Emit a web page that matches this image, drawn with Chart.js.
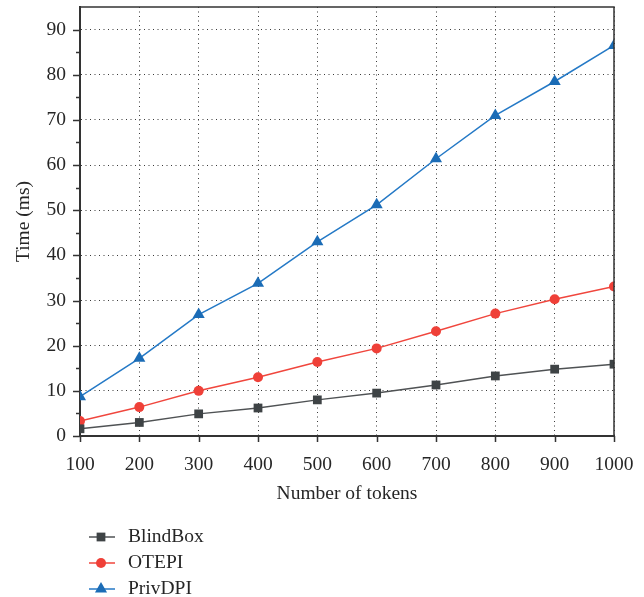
<!DOCTYPE html>
<html>
<head>
<meta charset="utf-8">
<script src="https://cdn.jsdelivr.net/npm/chart.js"></script>
<style>
  html, body { margin: 0; padding: 0; background: #fff; }
  #wrap { width: 644px; height: 597px; }
</style>
</head>
<body>
<div id="wrap"><canvas id="timeChart" width="644" height="597"></canvas></div>
<script>
// данные
const tokens = [100, 200, 300, 400, 500, 600, 700, 800, 900, 1000];
const blindBox = [1.6, 3.0, 4.9, 6.2, 8.0, 9.5, 11.3, 13.3, 14.8, 15.9];
const otepi = [3.3, 6.4, 10.0, 13.0, 16.4, 19.4, 23.2, 27.1, 30.3, 33.1];
const privDpi = [8.7, 17.2, 26.9, 33.8, 43.0, 51.2, 61.4, 71.0, 78.5, 86.5];
const seriesNames = ['BlindBox', 'OTEPI', 'PrivDPI'];

const FONT = 'Liberation Serif, Times New Roman, serif';
const TEXT = '#262626';
const AXIS = '#333';

function toXY(ys) {
    return tokens.map(function (t, i) { return { x: t, y: ys[i] }; });
}

// рамка сверху/справа и засечки на осях
const framePlugin = {
    id: 'frame',
    afterDraw(chart) {
        const ctx = chart.ctx;
        const a = chart.chartArea;
        const xs = chart.scales.x;
        const ys = chart.scales.y;
        ctx.save();
        ctx.strokeStyle = AXIS;
        ctx.lineWidth = 1.5;
        ctx.beginPath();
        ctx.moveTo(a.left, a.top);
        ctx.lineTo(a.right, a.top);
        ctx.lineTo(a.right, a.bottom);
        ctx.stroke();

        ctx.lineWidth = 1.5;
        ctx.beginPath();
        tokens.forEach(function (t) {
            const px = Math.round(xs.getPixelForValue(t)) + 0.5;
            ctx.moveTo(px, a.bottom);
            ctx.lineTo(px, a.bottom + 6);
        });
        for (let v = 0; v <= 90; v += 5) {
            const py = Math.round(ys.getPixelForValue(v)) + 0.5;
            const len = v % 10 === 0 ? 7 : 4;
            ctx.moveTo(a.left, py);
            ctx.lineTo(a.left - len, py);
        }
        ctx.stroke();
        ctx.restore();
    }
};

function drawMarker(ctx, style, x, y, r) {
    ctx.beginPath();
    if (style === 'rect') {
        const s = Math.SQRT1_2 * r;
        ctx.rect(x - s, y - s, 2 * s, 2 * s);
    } else if (style === 'triangle') {
        ctx.moveTo(x, y - r);
        ctx.lineTo(x + r * Math.sin(2 * Math.PI / 3), y - r * Math.cos(2 * Math.PI / 3));
        ctx.lineTo(x + r * Math.sin(4 * Math.PI / 3), y - r * Math.cos(4 * Math.PI / 3));
        ctx.closePath();
    } else {
        ctx.arc(x, y, r, 0, Math.PI * 2);
    }
    ctx.fill();
}

// легенда столбиком внизу слева
const legendPlugin = {
    id: 'columnLegend',
    afterDraw(chart) {
        const ctx = chart.ctx;
        ctx.save();
        chart.data.datasets.forEach(function (ds, i) {
            const y = 537 + i * 26;
            ctx.strokeStyle = ds.borderColor;
            ctx.lineWidth = 1.5;
            ctx.beginPath();
            ctx.moveTo(89, y);
            ctx.lineTo(115, y);
            ctx.stroke();
            ctx.fillStyle = ds.pointBackgroundColor;
            drawMarker(ctx, ds.pointStyle, 101, y, ds.pointRadius);
            ctx.fillStyle = TEXT;
            ctx.font = '19.5px ' + FONT;
            ctx.textBaseline = 'middle';
            ctx.fillText(ds.label, 128, y);
        });
        ctx.restore();
    }
};

const ctx = document.getElementById('timeChart').getContext('2d');

const chartTime = new Chart(ctx, {
    type: 'line',
    data: {
        datasets: [{
            label: seriesNames[0],
            data: toXY(blindBox),
            borderColor: '#4f5254',
            borderWidth: 1.5,
            pointStyle: 'rect',
            pointRadius: 6.2,
            pointBackgroundColor: '#3e4345',
            pointBorderColor: '#3e4345',
            pointBorderWidth: 0
        }, {
            label: seriesNames[1],
            data: toXY(otepi),
            borderColor: '#f0463d',
            borderWidth: 1.5,
            pointStyle: 'circle',
            pointRadius: 5,
            pointBackgroundColor: '#ef4038',
            pointBorderColor: '#ef4038',
            pointBorderWidth: 0
        }, {
            label: seriesNames[2],
            data: toXY(privDpi),
            borderColor: '#2479c6',
            borderWidth: 1.5,
            pointStyle: 'triangle',
            pointRadius: 7,
            pointBackgroundColor: '#1b6cb6',
            pointBorderColor: '#1b6cb6',
            pointBorderWidth: 0
        }]
    },
    options: {
        responsive: false,
        animation: false,
        layout: { padding: { left: 10, right: 30, top: 6, bottom: 90 } },
        plugins: {
            legend: { display: false },
            tooltip: { enabled: false }
        },
        scales: {
            x: {
                type: 'linear',
                min: 100,
                max: 1000,
                afterFit(scale) {
                    scale.height = 71;
                    scale.paddingLeft = 0;
                    scale.paddingRight = 0;
                },
                afterBuildTicks(scale) {
                    scale.ticks = tokens.map(function (t) { return { value: t }; });
                },
                ticks: {
                    color: TEXT,
                    font: { family: FONT, size: 19.5 },
                    padding: 17,
                    maxRotation: 0,
                    autoSkip: false,
                    callback: function (v) { return String(v); }
                },
                grid: {
                    color: '#3a3a3a',
                    lineWidth: 1,
                    drawTicks: false
                },
                border: { display: true, color: AXIS, width: 2, dash: [1, 3.5] },
                title: {
                    display: true,
                    text: 'Number of tokens',
                    color: TEXT,
                    font: { family: FONT, size: 19.5 },
                    padding: { top: 4, bottom: 1 }
                }
            },
            y: {
                min: 0,
                max: 95,
                afterFit(scale) {
                    scale.width = 70;
                    scale.paddingTop = 0;
                    scale.paddingBottom = 0;
                },
                ticks: {
                    stepSize: 5,
                    color: TEXT,
                    font: { family: FONT, size: 19.5 },
                    padding: 14,
                    callback: function (v) { return v % 10 === 0 ? String(v) : ''; }
                },
                grid: {
                    color: function (c) {
                        return c.tick && c.tick.value === 0 ? 'rgba(0,0,0,0)' : '#3a3a3a';
                    },
                    lineWidth: 1,
                    drawTicks: false
                },
                border: {
                    display: true,
                    color: AXIS,
                    width: 2,
                    dash: function (c) {
                        return c.tick && c.tick.value % 10 === 0 ? [1, 3.5] : [1, 8];
                    }
                },
                title: {
                    display: true,
                    text: 'Time (ms)',
                    color: TEXT,
                    font: { family: FONT, size: 19.5 },
                    padding: { top: 2, bottom: 0 }
                }
            }
        }
    },
    plugins: [framePlugin, legendPlugin]
});
</script>
</body>
</html>
